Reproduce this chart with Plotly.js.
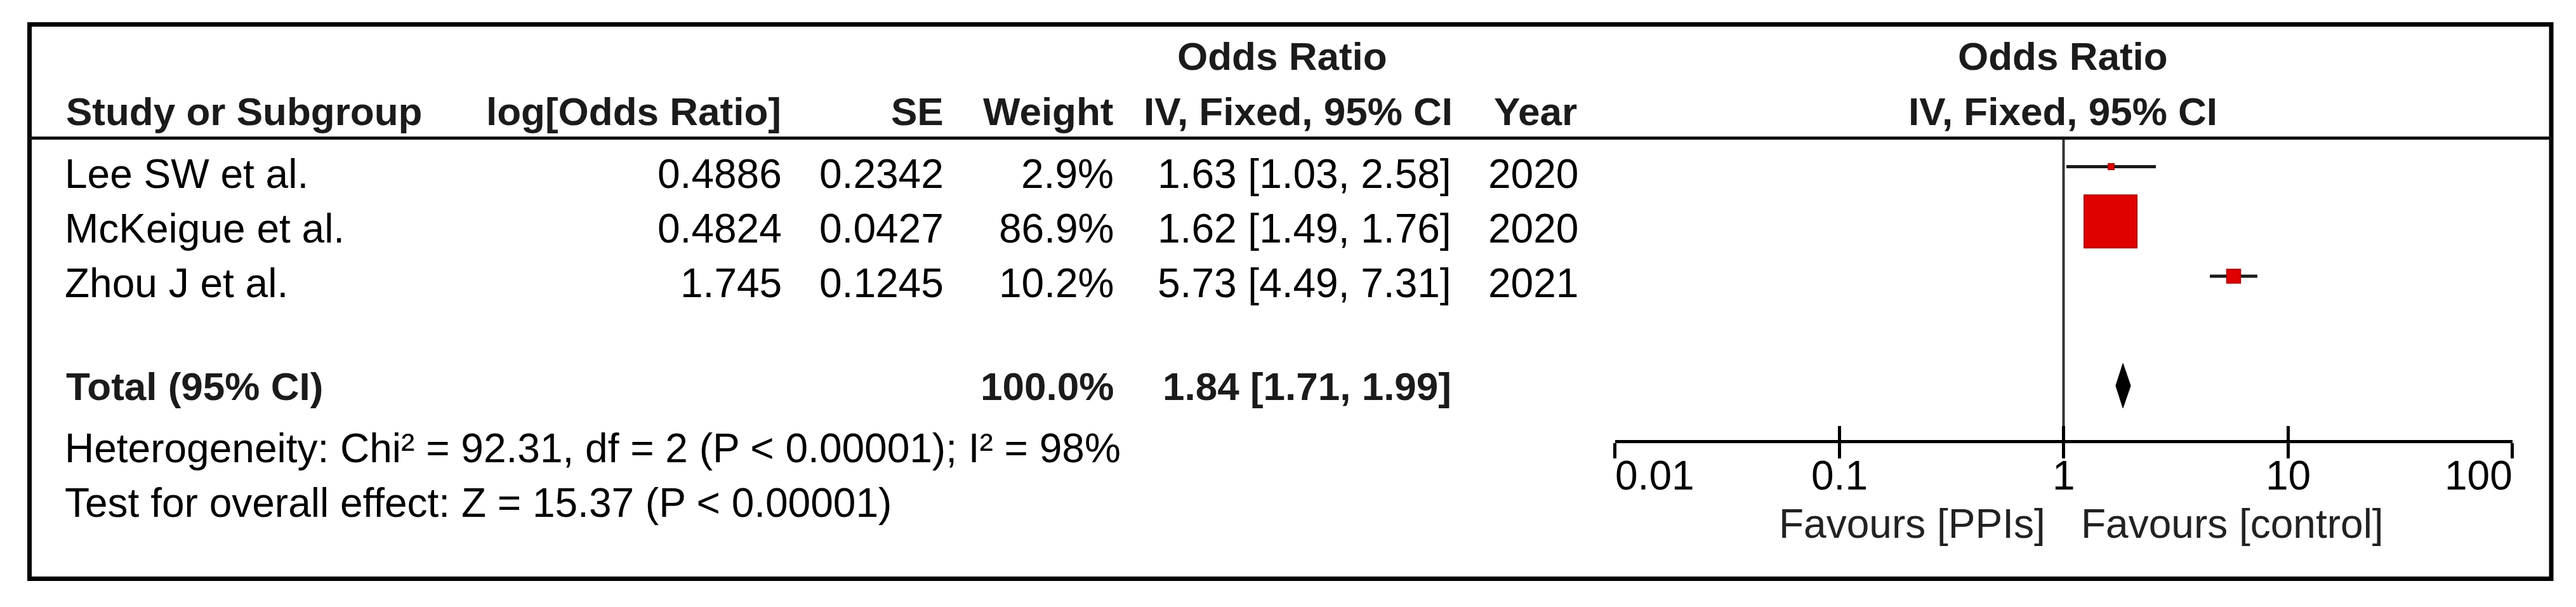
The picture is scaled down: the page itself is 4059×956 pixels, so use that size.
<!DOCTYPE html>
<html>
<head>
<meta charset="utf-8">
<script src="https://cdn.plot.ly/plotly-3.0.1.min.js"></script>
<style>
html, body { margin: 0; padding: 0; background: #ffffff; }
#chart { width: 4059px; height: 956px; }
</style>
</head>
<body>
<div id="chart"></div>
<script>
// ---------------- data ----------------
const studies = ["Lee SW et al.", "McKeigue et al.", "Zhou J et al."];
const logOddsRatio = [0.4886, 0.4824, 1.745];
const standardError = [0.2342, 0.0427, 0.1245];
const weights = [2.9, 86.9, 10.2];
const oddsRatio = [1.63, 1.62, 5.73];
const ciLower = [1.03, 1.49, 4.49];
const ciUpper = [2.58, 1.76, 7.31];
const years = [2020, 2020, 2021];

const totalLabel = "Total (95% CI)";
const totalWeight = 100.0;
const totalOR = 1.84;
const totalLower = 1.71;
const totalUpper = 1.99;

const heteroChi2 = 92.31;
const heteroDf = 2;
const heteroP = "0.00001";
const heteroI2 = 98;
const overallZ = 15.37;
const overallP = "0.00001";

const tickValues = [0.01, 0.1, 1, 10, 100];
const tickLabels = ["0.01", "0.1", "1", "10", "100"];
const favoursLabels = ["Favours [PPIs]", "Favours [control]"];

const headerCols = ["Study or Subgroup", "log[Odds Ratio]", "SE", "Weight", "IV, Fixed, 95% CI", "Year"];
const groupHeader = "Odds Ratio";

// ---------------- layout helpers ----------------
const W = 4059, H = 956;
const FONT = "Liberation Sans, Arial, Helvetica, sans-serif";
const FS = 64;      // regular text
const FSB = 62;     // bold text
const ROW1_PX = 262.5, ROW_STEP = 86.25;
const rows = studies.map((_, i) => i + 1);
const totalRow = 5;
const pxToRow = py => 1 + (py - ROW1_PX) / ROW_STEP;
const px = x => x / W;
const py = y => 1 - y / H;

const AXIS_Y = 694.5;
const SEP_Y = 217.5;

const fmt2 = v => v.toFixed(2);
const ciText = (o, l, u) => fmt2(o) + " [" + fmt2(l) + ", " + fmt2(u) + "]";

// ---------------- traces ----------------
const traces = [];

// line of no effect
traces.push({
  x: [1, 1], y: [pxToRow(SEP_Y), pxToRow(AXIS_Y)],
  mode: "lines", line: { color: "#333333", width: 4 },
  hoverinfo: "skip", showlegend: false
});

// CI lines
studies.forEach((s, i) => {
  traces.push({
    x: [ciLower[i], ciUpper[i]], y: [rows[i], rows[i]],
    mode: "lines", line: { color: "#1a1a1a", width: 5 },
    hoverinfo: "skip", showlegend: false
  });
});

// weighted squares
traces.push({
  x: oddsRatio, y: rows,
  mode: "markers",
  marker: {
    symbol: "square",
    size: weights.map(w => 5.84 * Math.pow(w, 0.6) - 2),
    color: "#e00000",
    opacity: 1,
    line: { color: "#b00000", width: 2 }
  },
  hoverinfo: "skip", showlegend: false
});

// pooled diamond
const dh = 35 / ROW_STEP;
traces.push({
  x: [totalLower, totalOR, totalUpper, totalOR, totalLower],
  y: [totalRow, totalRow - dh, totalRow, totalRow + dh, totalRow],
  mode: "lines", fill: "toself", fillcolor: "#000000",
  line: { color: "#000000", width: 1 },
  hoverinfo: "skip", showlegend: false
});

// dummy trace for the overlaid axis (upward ticks)
traces.push({
  x: [1], y: [totalRow], xaxis: "x2", yaxis: "y",
  mode: "markers", marker: { opacity: 0, size: 1 },
  hoverinfo: "skip", showlegend: false
});

// ---------------- annotations ----------------
const ann = [];
function txt(text, x, y, xanchor, opts) {
  const o = Object.assign({
    text: text, x: x, y: y, xref: "paper", yref: "paper",
    xanchor: xanchor, yanchor: "middle", showarrow: false,
    borderpad: 0, borderwidth: 0,
    font: { family: FONT, size: FS, color: "#000000" }
  }, opts || {});
  ann.push(o);
}
const HDR = { font: { family: FONT, size: FSB, color: "#1b1b1b" } };

// header rows
txt("<b>" + groupHeader + "</b>", px(2020), py(88), "center", HDR);
txt("<b>" + groupHeader + "</b>", px(3250), py(88), "center", HDR);
txt("<b>" + headerCols[0] + "</b>", px(104), py(175), "left", HDR);
txt("<b>" + headerCols[1] + "</b>", px(1231), py(175), "right", HDR);
txt("<b>" + headerCols[2] + "</b>", px(1487), py(175), "right", HDR);
txt("<b>" + headerCols[3] + "</b>", px(1755), py(175), "right", HDR);
txt("<b>" + headerCols[4] + "</b>", px(2046), py(175), "center", HDR);
txt("<b>" + headerCols[5] + "</b>", px(2419), py(175), "center", HDR);
txt("<b>" + headerCols[4] + "</b>", px(3250), py(175), "center", HDR);

// study rows
const ROW_TEXT_SHIFT = -11;
studies.forEach((s, i) => {
  const o = { yref: "y", yshift: ROW_TEXT_SHIFT };
  txt(s, px(102), rows[i], "left", o);
  txt(String(logOddsRatio[i]), px(1232), rows[i], "right", o);
  txt(String(standardError[i]), px(1487), rows[i], "right", o);
  txt(weights[i].toFixed(1) + "%", px(1755), rows[i], "right", o);
  txt(ciText(oddsRatio[i], ciLower[i], ciUpper[i]), px(2287), rows[i], "right", o);
  txt(String(years[i]), px(2416), rows[i], "center", o);
});

// total row
const TOT = { yref: "y", yshift: -1, font: { family: FONT, size: FSB, color: "#1b1b1b" } };
txt("<b>" + totalLabel + "</b>", px(104), totalRow, "left", TOT);
txt("<b>" + totalWeight.toFixed(1) + "%</b>", px(1755), totalRow, "right", TOT);
txt("<b>" + ciText(totalOR, totalLower, totalUpper) + "</b>", px(2287), totalRow, "right", TOT);

// statistics
txt("Heterogeneity: Chi\u00B2 = " + heteroChi2.toFixed(2) + ", df = " + heteroDf +
    " (P &lt; " + heteroP + "); I\u00B2 = " + heteroI2 + "%", px(102), py(706), "left");
txt("Test for overall effect: Z = " + overallZ.toFixed(2) + " (P &lt; " + overallP + ")",
    px(102), py(792), "left");

// tick labels
tickValues.forEach((v, i) => {
  const anchor = i === 0 ? "left" : (i === tickValues.length - 1 ? "right" : "center");
  txt(tickLabels[i], Math.log10(v), py(749), anchor, { xref: "x" });
});

// favours labels
txt(favoursLabels[0], 0, py(825), "right", { xref: "x", xshift: -29, font: { family: FONT, size: FS, color: "#222222" } });
txt(favoursLabels[1], 0, py(825), "left", { xref: "x", xshift: 27, font: { family: FONT, size: FS, color: "#222222" } });

// ---------------- shapes (frame) ----------------
const shapes = [
  { type: "rect", xref: "paper", yref: "paper",
    x0: px(46.5), x1: px(4020), y0: py(911.5), y1: py(38.5),
    line: { color: "#000000", width: 7 }, fillcolor: "rgba(0,0,0,0)", layer: "above" },
  { type: "line", xref: "paper", yref: "paper",
    x0: px(46.5), x1: px(4020), y0: py(SEP_Y), y1: py(SEP_Y),
    line: { color: "#111111", width: 5 } }
];

// ---------------- layout ----------------
const axDomain = [2544.5 / W, 3958.5 / W];
const layout = {
  width: W, height: H,
  margin: { l: 0, r: 0, t: 0, b: 0, pad: 0 },
  paper_bgcolor: "#ffffff", plot_bgcolor: "rgba(0,0,0,0)",
  showlegend: false,
  xaxis: {
    type: "log", range: [-2, 2], domain: axDomain,
    anchor: "free", position: 1 - AXIS_Y / H,
    showline: true, linecolor: "#000000", linewidth: 5,
    ticks: "outside", ticklen: 24, tickwidth: 5, tickcolor: "#000000",
    tickmode: "array", tickvals: tickValues,
    showticklabels: false, showgrid: false, zeroline: false, fixedrange: true
  },
  xaxis2: {
    type: "log", range: [-2, 2], domain: axDomain, overlaying: "x",
    anchor: "free", position: 1 - AXIS_Y / H,
    showline: false,
    ticks: "inside", ticklen: 24, tickwidth: 5, tickcolor: "#000000",
    tickmode: "array", tickvals: tickValues,
    showticklabels: false, showgrid: false, zeroline: false, fixedrange: true
  },
  yaxis: {
    domain: [0, 1], range: [pxToRow(H), pxToRow(0)],
    visible: false, showgrid: false, zeroline: false, fixedrange: true
  },
  annotations: ann,
  shapes: shapes
};

Plotly.newPlot("chart", traces, layout, { displayModeBar: false, staticPlot: true });
</script>
</body>
</html>
